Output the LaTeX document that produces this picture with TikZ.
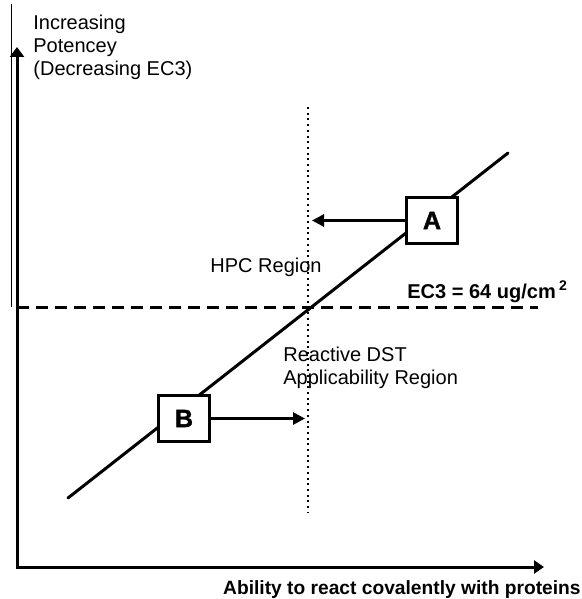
\documentclass[tikz,border=0pt]{standalone}
\usepackage{fontspec}
\setmainfont{Liberation Sans}
\newfontfamily\heavyfont[BoldFeatures={FakeBold=1.5}]{Liberation Sans}
\usetikzlibrary{arrows.meta, positioning, calc}

\begin{document}
\begin{tikzpicture}[
    x=0.5pt, y=-0.5pt,
    axis/.style={{Triangle[length=5pt, width=7pt]}-{Triangle[length=5pt, width=6.5pt]}, line width=1.5pt, line join=miter},
    arrow/.style={-{Triangle[length=6pt, width=6pt]}, line width=1.4pt},
    box/.style={draw, fill=white, line width=1.5pt, minimum width=25.5pt, minimum height=23pt, inner sep=0pt, font=\fontsize{12.5}{14}\heavyfont\bfseries},
    txt/.style={font=\fontsize{10}{11.5}\selectfont, inner sep=0pt, align=left},
    boldtxt/.style={font=\fontsize{9.6}{12}\selectfont\bfseries, inner sep=0pt},
]
    \useasboundingbox (0,0) rectangle (582,599);

    % axes
    \coordinate (origin) at (17,567);
    \coordinate (ytip) at (17,47);
    \coordinate (xtip) at (544,567);
    \draw[line width=0.5pt] (11,4) -- (11,307);
    \draw[axis] (ytip) -- (origin) -- (xtip);

    % threshold lines
    \coordinate (ecstart) at (17,307);
    \coordinate (ecend) at (538,307);
    \draw[line width=1.5pt, dash pattern=on 6pt off 3.5pt] (ecstart) -- (ecend);
    \coordinate (dsttop) at (308,107);
    \coordinate (dstbot) at (308,512);
    \draw[line width=1.1pt, dash pattern=on 1pt off 1.85pt] (dsttop) -- (dstbot);

    % trend line and the two cases
    \coordinate (low) at (68,498);
    \coordinate (high) at (508,153);
    \draw[line width=1.5pt, line cap=round] (low) -- (high);
    \node[box] (A) at (432,220.5) {A};
    \node[box] (B) at (184,418.5) {B};
    \coordinate (atip) at (312,220.5);
    \coordinate (btip) at (305,418.5);
    \draw[arrow] (A.west) -- (atip);
    \draw[arrow] (B.east) -- (btip);

    % labels
    \node[txt, anchor=north west] (ylabel) at (33,15) {Increasing\\Potencey\\(Decreasing EC3)};
    \node[txt, anchor=base east] (hpc) at (322,272) {HPC Region};
    \node[txt, anchor=north west] (dst) at (283,347) {Reactive DST\\Applicability Region};
    \node[boldtxt, font=\fontsize{10}{12}\selectfont\bfseries, anchor=base west] (ec3) at (407,298) {EC3 = 64 ug/cm\,\textsuperscript{2}};
    \node[boldtxt, anchor=base east] (xlabel) at (581,594) {Ability to react covalently with proteins};
\end{tikzpicture}
\end{document}
